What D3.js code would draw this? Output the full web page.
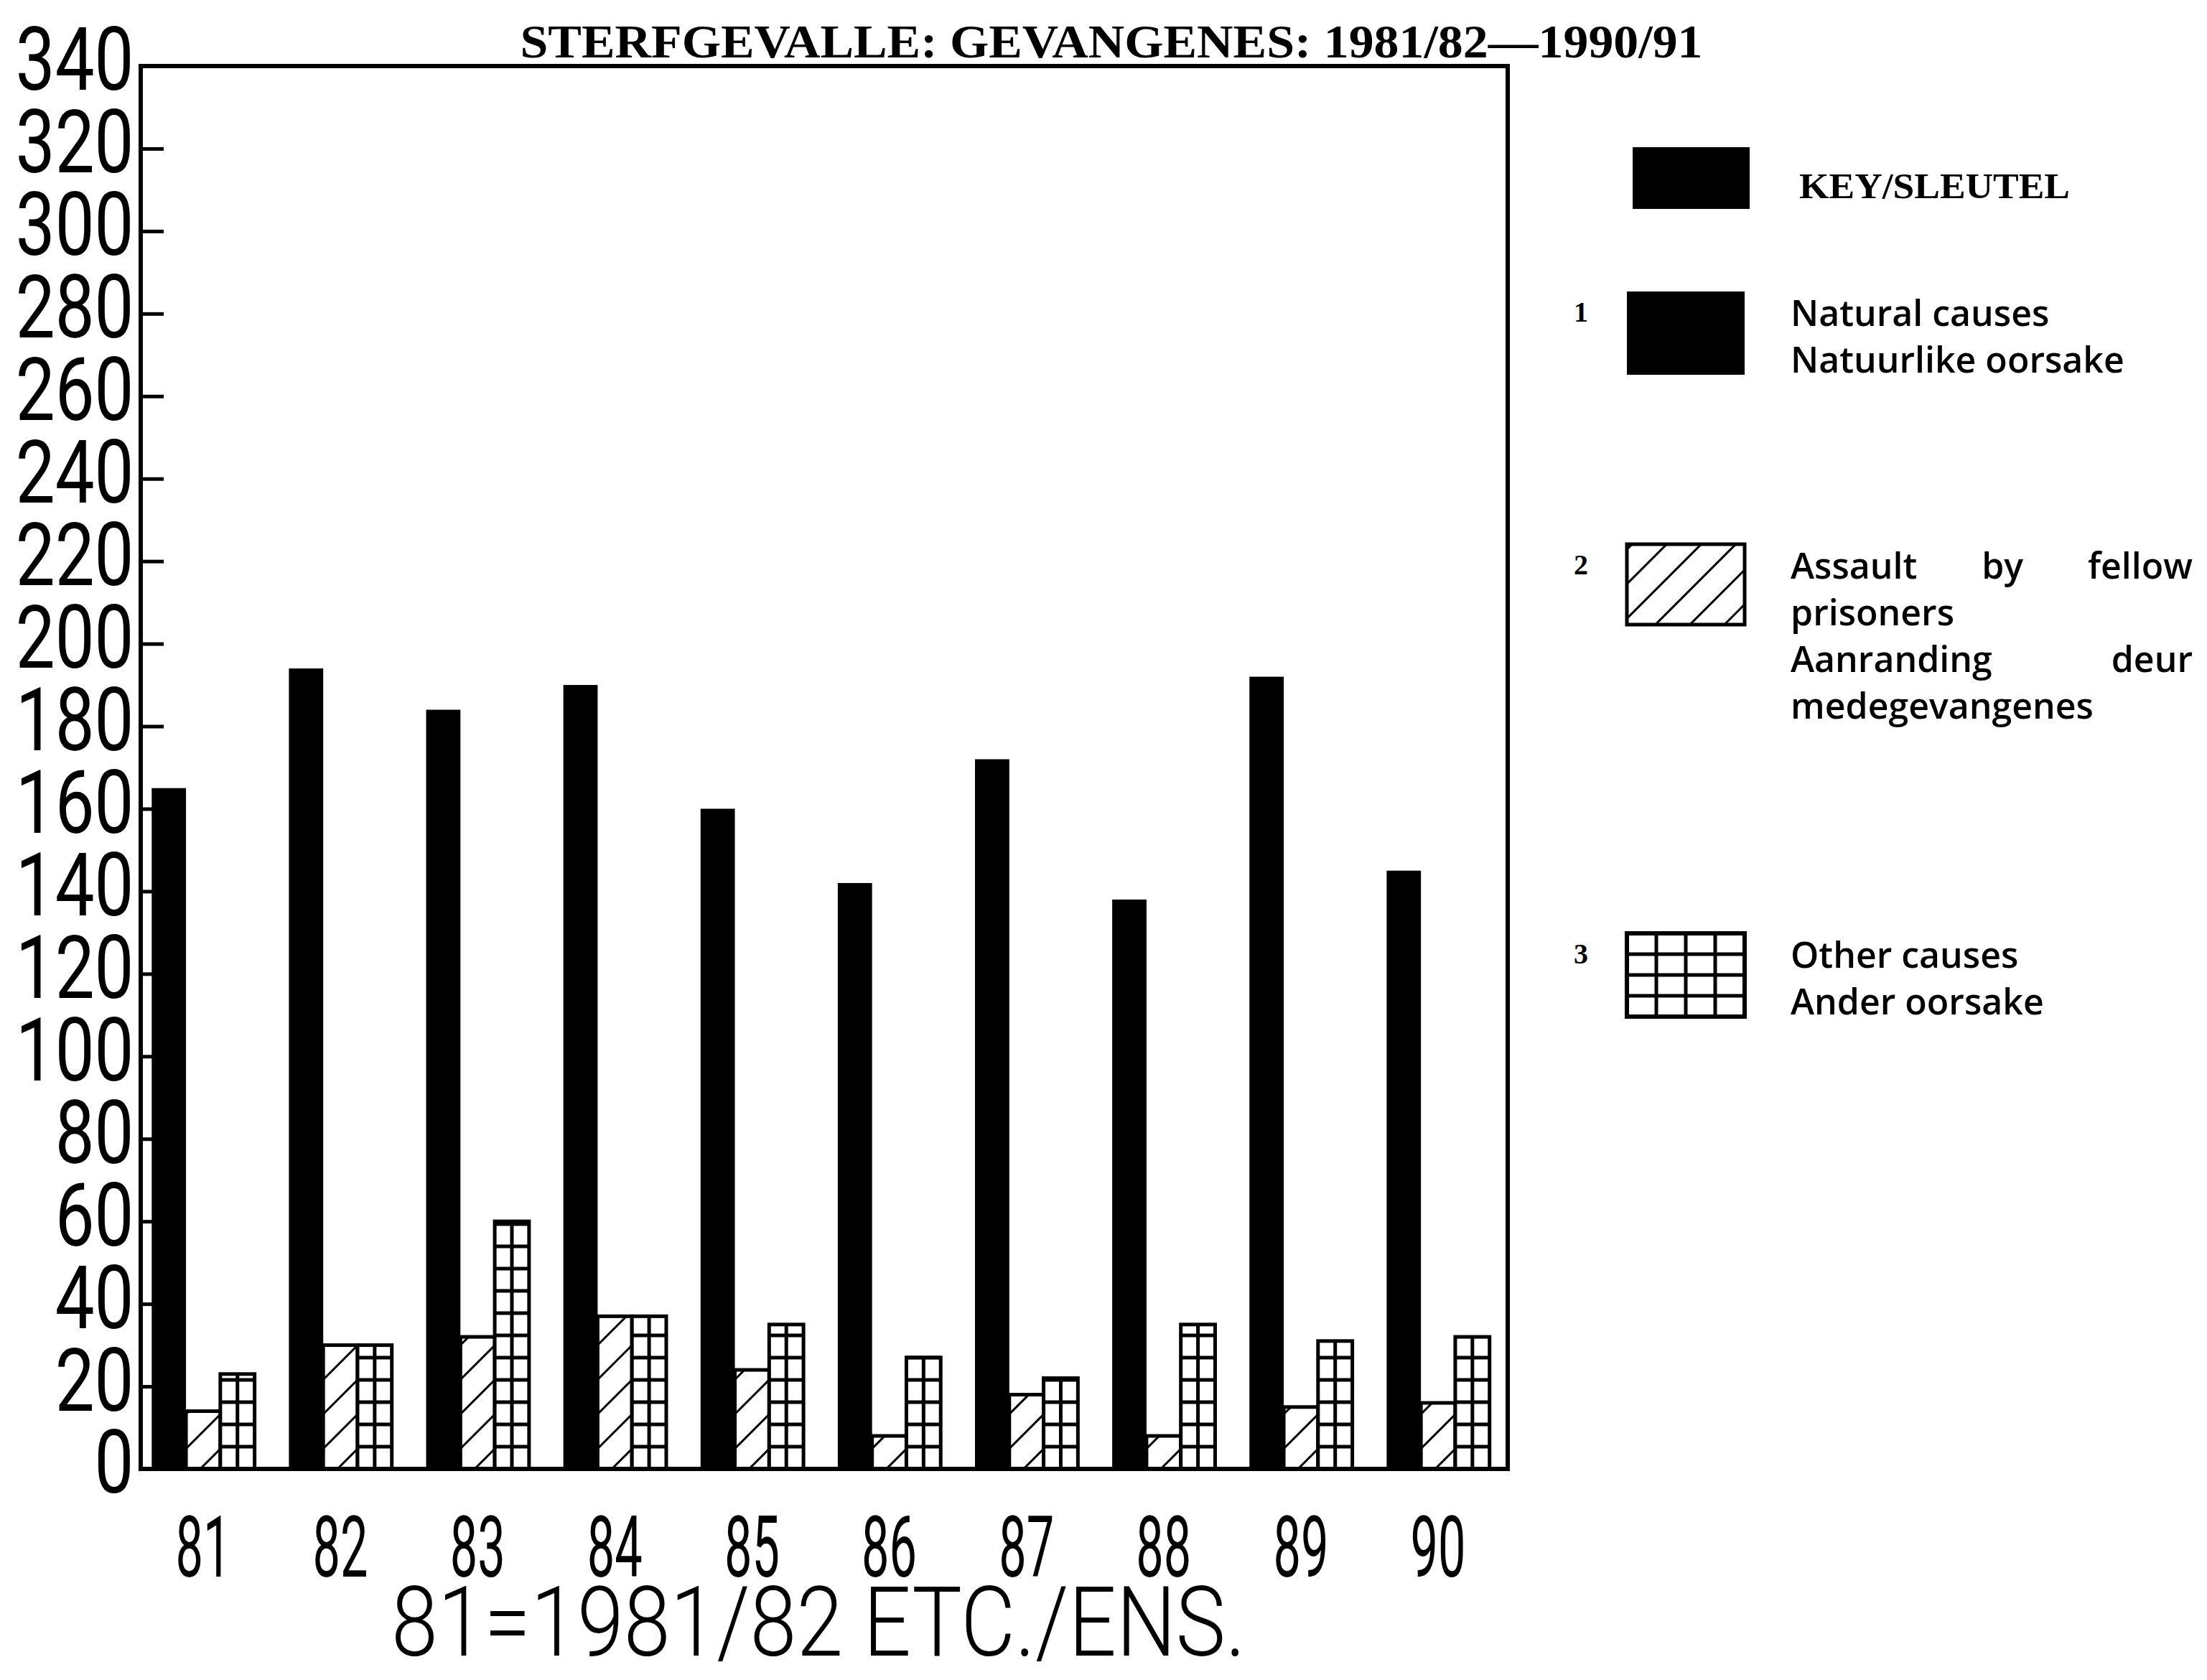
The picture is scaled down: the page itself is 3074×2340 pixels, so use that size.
<!DOCTYPE html>
<html>
<head>
<meta charset="utf-8">
<script src="https://cdn.jsdelivr.net/npm/d3@7"></script>
<style>
  body { margin: 0; background: #fff; }
  svg { display: block; background: #fff; }
</style>
</head>
<body>
<svg id="chart"></svg>
<script>
(function() {
  // values
  var years = ["81", "82", "83", "84", "85", "86", "87", "88", "89", "90"];
  var natural_causes = [165, 194, 184, 190, 160, 142, 172, 138, 192, 145];
  var assault_by_prisoners = [14, 30, 32, 37, 24, 8, 18, 8, 15, 16];
  var other_causes = [23, 30, 60, 37, 35, 27, 22, 35, 31, 32];
  var series_keys = ["natural", "assault", "other"];
  var y_ticks = [0, 20, 40, 60, 80, 100, 120, 140, 160, 180, 200, 220, 240, 260, 280, 300, 320, 340];

  var chart_title = "STERFGEVALLE: GEVANGENES: 1981/82\u20141990/91";
  var x_title = "81=1981/82 ETC./ENS.";
  var key_title = "KEY/SLEUTEL";
  var legend_numbers = ["1", "2", "3"];
  var legend_lines = [
    ["Natural causes", "Natuurlike oorsake"],
    ["Assault by fellow", "prisoners", "Aanranding deur", "medegevangenes"],
    ["Other causes", "Ander oorsake"]
  ];
  var justified_lines = ["Assault by fellow", "Aanranding deur"];

  var width = 3074, height = 2340;
  var margin = {top: 92, right: 974, bottom: 294, left: 196};
  var plot_width = width - margin.left - margin.right,
    plot_height = height - margin.top - margin.bottom;

  var svg = d3.select("#chart")
        .attr("width", width)
        .attr("height", height);

  var defs = svg.append("defs");
  var hatch = defs.append("pattern")
        .attr("id", "hatch")
        .attr("patternUnits", "userSpaceOnUse")
        .attr("width", 34)
        .attr("height", 34)
        .attr("patternTransform", "rotate(45)");
    hatch.append("rect").attr("width", 34).attr("height", 34).attr("fill", "#fff");
    hatch.append("line")
      .attr("x1", 0).attr("y1", 0).attr("x2", 0).attr("y2", 34)
      .attr("stroke", "#000").attr("stroke-width", 6);

  // title
  svg.append("text")
    .attr("x", 1548)
    .attr("y", 80)
    .attr("text-anchor", "middle")
    .attr("textLength", 1647)
    .attr("lengthAdjust", "spacingAndGlyphs")
    .style("font-family", "'Liberation Serif', serif")
    .style("font-weight", "bold")
    .style("font-size", "66px")
    .text(chart_title);

  var chart = svg.append("g")
        .attr("transform", "translate(" + margin.left + "," + margin.top + ")");

  var x0_scaler = d3.scaleBand()
          .domain(years)
          .range([0, plot_width - 10])
          .paddingInner(0.25)
          .paddingOuter(0.08);

  var x1_scaler = d3.scaleBand()
          .domain(series_keys)
          .range([0, x0_scaler.bandwidth()]);

  var y_scaler = d3.scaleLinear()
          .domain([0, 340])
          .range([plot_height, 0]);

  var data = years.map(function(yr, i) {
    return {year: yr, values: [
      {key: "natural", value: natural_causes[i]},
      {key: "assault", value: assault_by_prisoners[i]},
      {key: "other", value: other_causes[i]}
    ]};
  });

  var groups = chart.selectAll(".group")
        .data(data)
        .enter()
        .append("g")
        .attr("class", "group")
        .attr("transform", function(d) { return "translate(" + x0_scaler(d.year) + ",0)"; });

  var bars = groups.selectAll("g.bar")
        .data(function(d) { return d.values; })
        .enter()
        .append("g")
        .attr("class", "bar");

    bars.append("rect")
      .attr("x", function(d) { return x1_scaler(d.key); })
      .attr("y", function(d) { return y_scaler(d.value); })
      .attr("width", x1_scaler.bandwidth())
      .attr("height", function(d) { return plot_height - y_scaler(d.value); })
      .attr("fill", function(d) {
        if (d.key == "natural") { return "#000"; }
        if (d.key == "assault") { return "url(#hatch)"; }
        return "#fff";
      })
      .attr("stroke", "#000")
      .attr("stroke-width", function(d) { return d.key == "natural" ? 0 : 5; });

  // grid fill for "other causes" bars
  bars.filter(function(d) { return d.key == "other"; })
    .each(function(d) {
      var g = d3.select(this);
      var bx = x1_scaler(d.key), bw = x1_scaler.bandwidth(), top = y_scaler(d.value);
      g.append("line")
        .attr("x1", bx + bw / 2).attr("x2", bx + bw / 2)
        .attr("y1", top).attr("y2", plot_height)
        .attr("stroke", "#000").attr("stroke-width", 5);
      g.selectAll(".row")
        .data(d3.range(plot_height - 31, top, -31))
        .enter()
        .append("line")
        .attr("x1", bx).attr("x2", bx + bw)
        .attr("y1", function(r) { return r; })
        .attr("y2", function(r) { return r; })
        .attr("stroke", "#000").attr("stroke-width", 5);
    });

  // frame
  chart.append("rect")
    .attr("width", plot_width)
    .attr("height", plot_height)
    .attr("fill", "none")
    .attr("stroke", "#000")
    .attr("stroke-width", 6);

  var y_axis = chart.append("g")
        .call(d3.axisLeft(y_scaler).tickValues(y_ticks).tickSize(-32).tickPadding(12));
    y_axis.select(".domain").remove();
    y_axis.selectAll("line").attr("stroke-width", 5);
    y_axis.selectAll("text")
      .attr("dy", "0.27em")
      .attr("transform", "scale(0.8,1)")
      .style("font-family", "Roboto, sans-serif")
      .style("font-weight", 400)
      .style("font-size", "122px")
      .attr("fill", "#000");

  var x_axis = chart.append("g")
        .attr("transform", "translate(0," + plot_height + ")")
        .call(d3.axisBottom(x0_scaler).tickSize(0));
    x_axis.select(".domain").remove();
    x_axis.selectAll("text")
      .attr("y", 150)
      .attr("dy", 0)
      .attr("transform", "scale(0.58,1)")
      .style("font-family", "Roboto, sans-serif")
      .style("font-weight", 400)
      .style("font-size", "118px")
      .attr("fill", "#000");

  svg.append("text")
    .attr("x", 1140)
    .attr("y", 2306)
    .attr("text-anchor", "middle")
    .attr("textLength", 1190)
    .attr("lengthAdjust", "spacingAndGlyphs")
    .style("font-family", "Roboto, sans-serif")
    .style("font-weight", 300)
    .style("font-size", "136px")
    .text(x_title);

  // legend
  var legend = svg.append("g")
        .style("font-family", "'Open Sans', sans-serif")
        .style("font-weight", 600)
        .style("font-size", "50px");

  var box_x = 2266, box_w = 164, text_x = 2494, text_right = 3054, line_gap = 65;
  var entry_tops = [406, 758, 1300];
  var box_heights = [116, 112, 116];

  legend.append("rect")
    .attr("x", 2274).attr("y", 205)
    .attr("width", 163).attr("height", 86)
    .attr("fill", "#000");

  legend.append("text")
    .attr("x", 2506)
    .attr("y", 276)
    .attr("textLength", 377)
    .attr("lengthAdjust", "spacingAndGlyphs")
    .style("font-family", "'Liberation Serif', serif")
    .style("font-weight", "bold")
    .style("font-size", "50px")
    .text(key_title);

  function justifyLine(g, line, x_start, x_end, y) {
    var words = line.split(" ");
    var nodes = words.map(function(w) { return g.append("text").attr("y", y).text(w); });
    var widths = nodes.map(function(n) { return n.node().getComputedTextLength(); });
    var gap = (x_end - x_start - d3.sum(widths)) / (words.length - 1);
    var x = x_start;
    nodes.forEach(function(n, i) { n.attr("x", x); x += widths[i] + gap; });
  }

  series_keys.forEach(function(key, i) {
    var top = entry_tops[i], bh = box_heights[i];

    legend.append("text")
      .attr("x", 2202)
      .attr("y", top + 42)
      .attr("text-anchor", "middle")
      .style("font-family", "'Liberation Serif', serif")
      .style("font-weight", "bold")
      .style("font-size", "40px")
      .text(legend_numbers[i]);

    var box = legend.append("rect")
          .attr("x", box_x).attr("y", top)
          .attr("width", box_w).attr("height", bh);
    if (key == "natural") {
      box.attr("fill", "#000");
    } else if (key == "assault") {
      box.attr("fill", "url(#hatch)").attr("stroke", "#000").attr("stroke-width", 5);
    } else {
      box.attr("fill", "#fff").attr("stroke", "#000").attr("stroke-width", 6);
      legend.selectAll(".gcol")
        .data([1, 2, 3])
        .enter()
        .append("line")
        .attr("x1", function(c) { return box_x + c * box_w / 4; })
        .attr("x2", function(c) { return box_x + c * box_w / 4; })
        .attr("y1", top).attr("y2", top + bh)
        .attr("stroke", "#000").attr("stroke-width", 5);
      legend.selectAll(".grow")
        .data([1, 2, 3])
        .enter()
        .append("line")
        .attr("x1", box_x).attr("x2", box_x + box_w)
        .attr("y1", function(r) { return top + r * bh / 4; })
        .attr("y2", function(r) { return top + r * bh / 4; })
        .attr("stroke", "#000").attr("stroke-width", 5);
    }

    legend_lines[i].forEach(function(line, j) {
      var y = top + 48 + j * line_gap;
      if (justified_lines.indexOf(line) >= 0) {
        justifyLine(legend, line, text_x, text_right, y);
      } else {
        legend.append("text").attr("x", text_x).attr("y", y).text(line);
      }
    });
  });
}());
</script>
</body>
</html>
